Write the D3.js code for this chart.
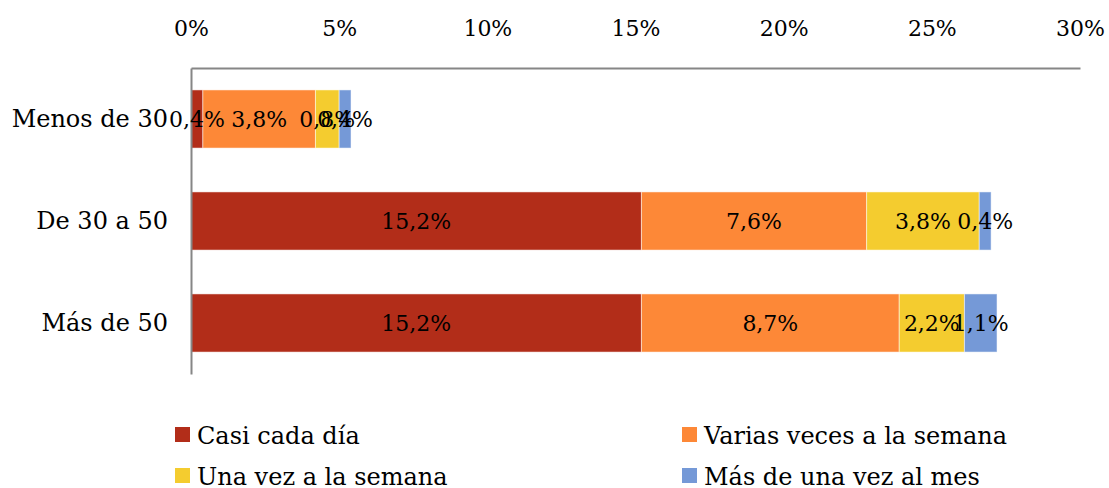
<!DOCTYPE html>
<html>
<head>
<meta charset="utf-8">
<script src="https://cdn.jsdelivr.net/npm/d3@7"></script>
<style>
  body { margin: 0; background: #fff; }
  text { font-family: "DejaVu Serif", serif; fill: #000; }
</style>
</head>
<body>
<div id="chart"></div>
<script>
// Data
const categories = ["Menos de 30", "De 30 a 50", "Más de 50"];
const seriesNames = ["Casi cada día", "Varias veces a la semana", "Una vez a la semana", "Más de una vez al mes"];
const casiCadaDia = [0.4, 15.2, 15.2];
const variasVeces = [3.8, 7.6, 8.7];
const unaVez = [0.8, 3.8, 2.2];
const masDeUnaVezMes = [0.4, 0.4, 1.1];
const xTicks = [0, 5, 10, 15, 20, 25, 30];

const colors = ["#B22D19", "#FD8837", "#F4CC2F", "#7599D7"];

const width = 1109, height = 488;
const margin = {top: 68, right: 29, bottom: 114, left: 191};

const svg = d3.select("#chart").append("svg")
    .attr("width", width)
    .attr("height", height);

const g = svg.append("g")
    .attr("transform", "translate(" + margin.left + "," + margin.top + ")");

const innerW = width - margin.left - margin.right,
    innerH = height - margin.top - margin.bottom;

const x = d3.scaleLinear().domain([0, 30]).range([0, innerW]);
const y = d3.scaleBand().domain(categories).range([0, innerH])
    .paddingInner(0.43).paddingOuter(0.215);

// build rows for stack
const rows = categories.map((c, i) => ({
    cat: c,
    s0: casiCadaDia[i],
    s1: variasVeces[i],
    s2: unaVez[i],
    s3: masDeUnaVezMes[i]
}));
const stack = d3.stack().keys(["s0", "s1", "s2", "s3"])(rows);

const fmt = v => d3.format(".1f")(v).replace(".", ",") + "%";

// bars
const layers = g.selectAll(".layer")
    .data(stack)
    .enter().append("g")
    .attr("fill", (d, i) => colors[i]);

layers.selectAll("rect")
    .data(d => d)
    .enter().append("rect")
    .attr("x", d => x(d[0]))
    .attr("y", d => y(d.data.cat))
    .attr("width", d => x(d[1]) - x(d[0]))
    .attr("height", y.bandwidth())
    .attr("stroke", "#fff")
    .attr("stroke-opacity", 0.5)
    .attr("stroke-width", 1);

// axes
const xAxis = g.append("g")
    .call(d3.axisTop(x).tickValues(xTicks).tickSize(0).tickPadding(32).tickFormat(d => d + "%"));
xAxis.select(".domain").attr("stroke", "#868686").attr("stroke-width", 2);
xAxis.selectAll("text").style("font-size", "22px").attr("fill", "#000");

const yAxis = g.append("g")
    .call(d3.axisLeft(y).tickSize(0).tickPadding(23));
yAxis.select(".domain").attr("stroke", "#868686").attr("stroke-width", 2);
yAxis.selectAll("text").style("font-size", "24px").attr("fill", "#000");

// labels, on top of every bar
const labels = g.append("g");
stack.forEach(layer => {
    labels.selectAll(null)
        .data(layer)
        .enter().append("text")
        .attr("x", d => (x(d[0]) + x(d[1])) / 2)
        .attr("y", d => y(d.data.cat) + y.bandwidth() / 2)
        .attr("dy", "0.36em")
        .attr("text-anchor", "middle")
        .style("font-size", "22px")
        .text(d => fmt(d[1] - d[0]));
});

// legend
const legendPos = [[175, 435], [682, 435], [175, 476], [682, 476]];
const legend = svg.append("g");
seriesNames.forEach((name, i) => {
    const row = legend.append("g")
        .attr("transform", "translate(" + legendPos[i][0] + "," + legendPos[i][1] + ")");
    row.append("rect")
        .attr("x", 0)
        .attr("y", -8)
        .attr("width", 15)
        .attr("height", 15)
        .attr("fill", colors[i]);
    row.append("text")
        .attr("x", 22)
        .attr("y", 0)
        .attr("dy", "0.36em")
        .style("font-size", "24px")
        .text(name);
});
</script>
</body>
</html>
